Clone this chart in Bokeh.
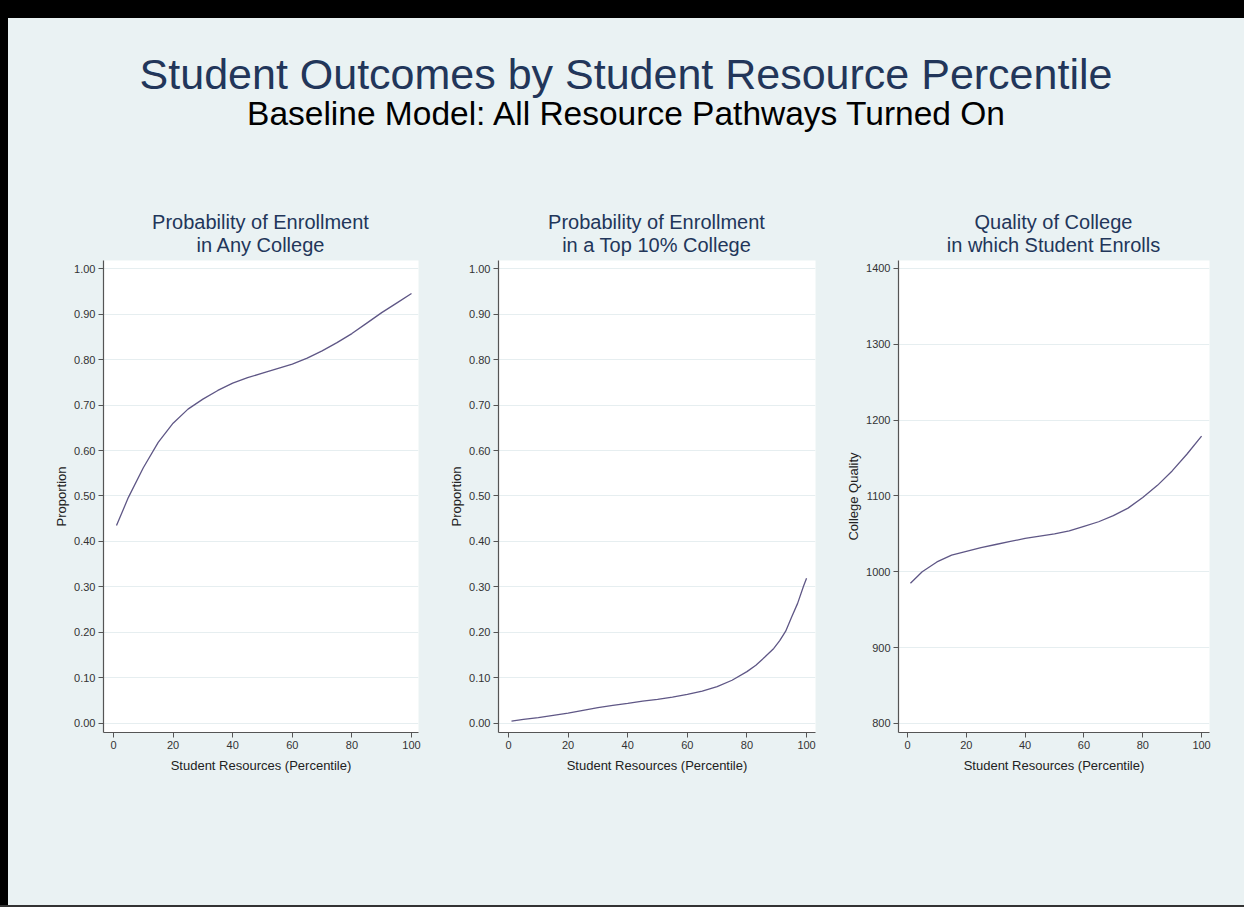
from bokeh.plotting import figure
from bokeh.layouts import column, row
from bokeh.models import Div, Range1d, FixedTicker, NumeralTickFormatter
from bokeh.embed import file_html
from bokeh.resources import INLINE

# ---------------- data ----------------
main_title = "Student Outcomes by Student Resource Percentile"
sub_title = "Baseline Model: All Resource Pathways Turned On"

panel_titles = [
    ["Probability of Enrollment", "in Any College"],
    ["Probability of Enrollment", "in a Top 10% College"],
    ["Quality of College", "in which Student Enrolls"],
]
y_labels = ["Proportion", "Proportion", "College Quality"]
x_label = "Student Resources (Percentile)"

x_ticks = [0, 20, 40, 60, 80, 100]
prop_ticks = [0.0, 0.1, 0.2, 0.3, 0.4, 0.5, 0.6, 0.7, 0.8, 0.9, 1.0]
quality_ticks = [800, 900, 1000, 1100, 1200, 1300, 1400]

pct_any = [1, 5, 10, 15, 20, 25, 30, 35, 40, 45, 50, 55, 60, 65, 70, 75, 80, 85, 90, 95, 100]
enroll_any = [0.435, 0.497, 0.562, 0.618, 0.660, 0.691, 0.713, 0.732, 0.748, 0.760, 0.770,
              0.780, 0.790, 0.803, 0.819, 0.837, 0.857, 0.880, 0.903, 0.924, 0.945]

pct_top = [1, 5, 10, 15, 20, 25, 30, 35, 40, 45, 50, 55, 60, 65, 70, 75, 80, 83, 86, 89,
           91, 93, 95, 97, 99, 100]
enroll_top = [0.005, 0.009, 0.013, 0.018, 0.023, 0.029, 0.035, 0.040, 0.044, 0.049, 0.053,
              0.058, 0.064, 0.071, 0.081, 0.095, 0.114, 0.128, 0.146, 0.165, 0.182, 0.203,
              0.234, 0.264, 0.302, 0.319]

pct_quality = [1, 5, 10, 15, 20, 25, 30, 35, 40, 45, 50, 55, 60, 65, 70, 75, 80, 85, 90, 95, 100]
quality = [985, 1000, 1013, 1022, 1027, 1032, 1036, 1040, 1044, 1047, 1050, 1054, 1060, 1066,
           1074, 1084, 1098, 1114, 1133, 1155, 1179]

# ---------------- style ----------------
BG = "#eaf2f3"
NAVY = "#22365a"
LINE = "#5f5786"
FONT = "Liberation Sans"
FRAME_H = 472

specs = [
    dict(x=pct_any, y=enroll_any, xr=(-3.36, 102.35), yr=(-0.0198, 1.0176), ticks=prop_ticks,
         fmt="0.00", width=425, left=95, right=15),
    dict(x=pct_top, y=enroll_top, xr=(-3.36, 103.0), yr=(-0.0198, 1.0176), ticks=prop_ticks,
         fmt="0.00", width=397, left=65, right=15),
    dict(x=pct_quality, y=quality, xr=(-3.06, 102.7), yr=(788.1, 1410.5), ticks=quality_ticks,
         fmt="0", width=414, left=68, right=35),
]

panels = []
for i, s in enumerate(specs):
    p = figure(width=s["width"], height=FRAME_H + 60, output_backend="svg", toolbar_location=None,
               x_range=Range1d(*s["xr"]), y_range=Range1d(*s["yr"]),
               min_border_left=s["left"], min_border_right=s["right"],
               min_border_top=0, min_border_bottom=60)
    p.background_fill_color = "white"
    p.border_fill_color = BG
    p.outline_line_color = None
    p.xgrid.grid_line_color = None
    p.ygrid.grid_line_color = "#e6eef0"
    p.ygrid.grid_line_width = 1
    p.line(s["x"], s["y"], line_color=LINE, line_width=1.3)

    p.xaxis.ticker = FixedTicker(ticks=x_ticks)
    p.yaxis.ticker = FixedTicker(ticks=s["ticks"])
    p.yaxis.formatter = NumeralTickFormatter(format=s["fmt"])
    p.xaxis.axis_label = x_label
    p.yaxis.axis_label = y_labels[i]
    for ax in (p.xaxis, p.yaxis):
        ax.axis_line_color = "#555555"
        ax.axis_line_width = 1.2
        ax.major_tick_line_color = "#555555"
        ax.major_tick_out = 5
        ax.major_tick_in = 0
        ax.minor_tick_line_color = None
        ax.major_label_text_font = FONT
        ax.major_label_text_font_size = "11px"
        ax.major_label_text_color = "#333333"
        ax.axis_label_text_font = FONT
        ax.axis_label_text_font_size = "13px"
        ax.axis_label_text_font_style = "normal"
        ax.axis_label_text_color = "#222222"
    p.yaxis.major_label_standoff = 3
    p.yaxis.axis_label_standoff = 2
    p.xaxis.major_label_standoff = 3
    p.xaxis.axis_label_standoff = 6

    t1, t2 = panel_titles[i]
    line_style = (f'text-align:center; font-family:\'{FONT}\'; font-size:20px; '
                  f'line-height:23px; height:23px; color:{NAVY}; white-space:nowrap')
    tdiv = Div(
        text=(f'<div style="padding:11px {s["right"]}px 0 {s["left"]}px; width:{s["width"]}px; '
              f'box-sizing:border-box">'
              f'<div style="{line_style}">{t1}</div>'
              f'<div style="{line_style}">{t2}</div></div>'),
        width=s["width"], height=60, margin=0)
    panels.append(column(tdiv, p, spacing=0))

header = Div(
    text=(f'<div style="width:1236px; text-align:center; font-family:\'{FONT}\'; white-space:nowrap">'
          f'<div style="padding-top:35px; font-size:43px; line-height:43px; color:{NAVY}">{main_title}</div>'
          f'<div style="padding-top:1px; font-size:33.5px; line-height:33.5px; color:#000000">{sub_title}</div>'
          f'</div>'),
    width=1236, height=182, margin=0)

filler = Div(text="", width=1236, height=113, margin=0)
content = column(header, row(*panels, spacing=0), filler, spacing=0,
                 styles={"background-color": BG}, width=1236, height=887)

top_band = Div(text="", width=1244, height=18, margin=0, styles={"background-color": "#000000"})
left_band = Div(text="", width=8, height=887, margin=0, styles={"background-color": "#000000"})
bottom_band = Div(text="", width=1244, height=2, margin=0, styles={"background-color": "#333333"})

root = column(top_band, row(left_band, content, spacing=0), bottom_band, spacing=0)

open("out.html", "w").write(file_html(root, INLINE))
